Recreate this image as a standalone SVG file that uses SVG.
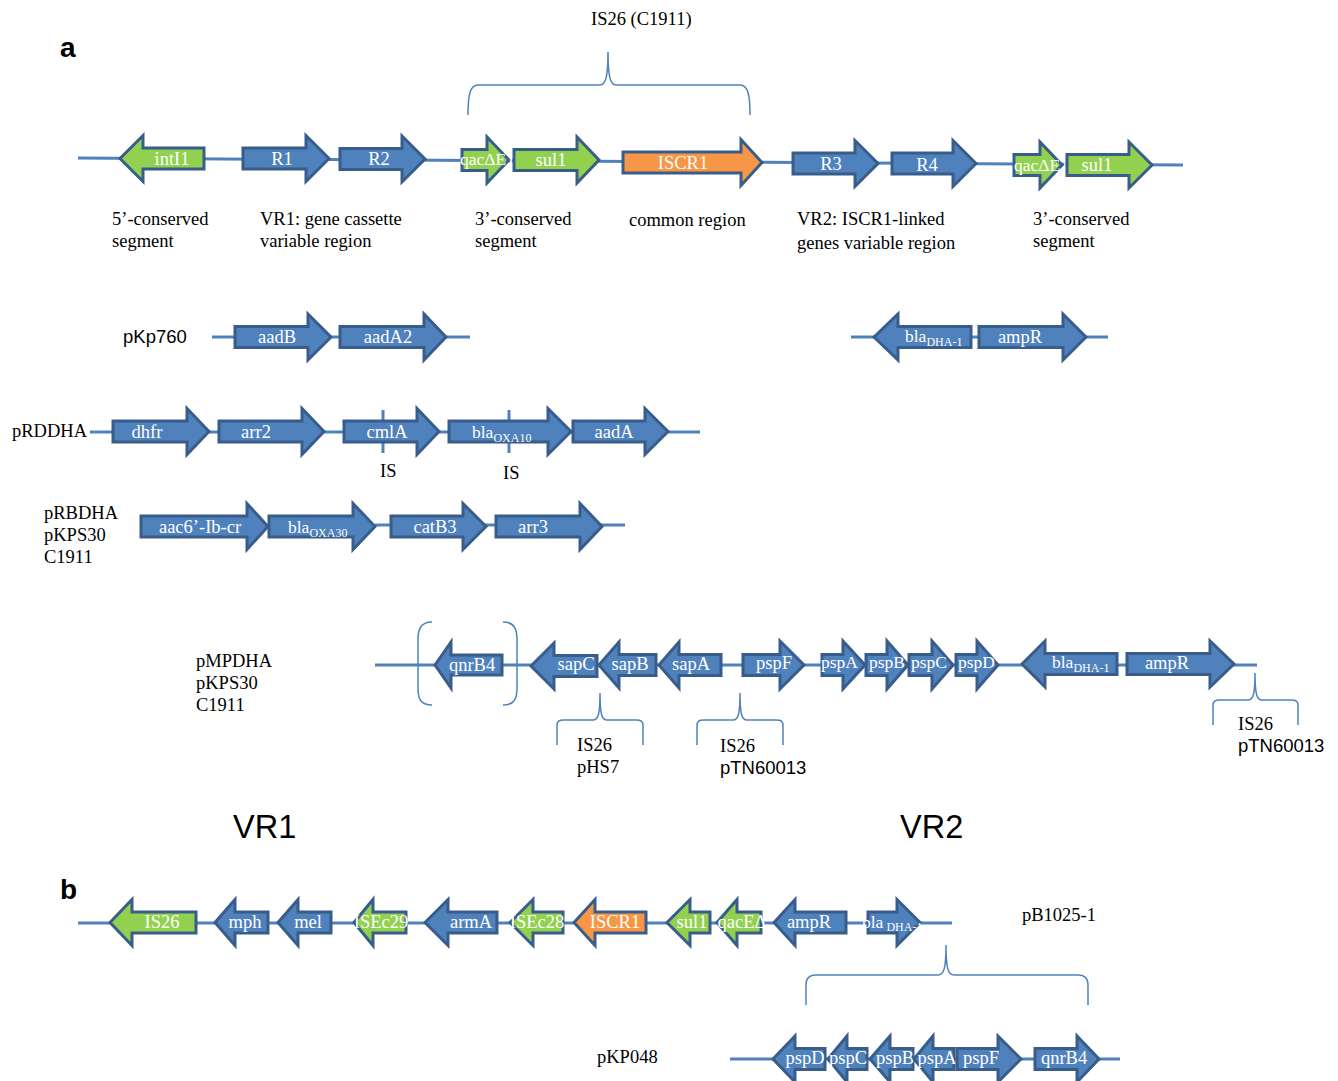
<svg xmlns="http://www.w3.org/2000/svg" width="1338" height="1081" viewBox="0 0 1338 1081">
<style>
.b{fill:#4F81BD;stroke:#385D8A;stroke-width:3;stroke-linejoin:miter}
.g{fill:#92D050;stroke:#385D8A;stroke-width:3}
.o{fill:#F79646;stroke:#385D8A;stroke-width:3}
.ln{stroke:#4F81BD;stroke-width:3;fill:none}
.br{stroke:#4F81BD;stroke-width:1.5;fill:none}
.t{font-family:"Liberation Serif",serif;font-size:18.5px;fill:#fff;text-anchor:middle}
.tl{font-family:"Liberation Serif",serif;font-size:17.5px;fill:#fff}
.k{font-family:"Liberation Serif",serif;font-size:18.5px;fill:#000}
.s{font-family:"Liberation Sans",sans-serif;font-size:18.5px;fill:#000}
.big{font-family:"Liberation Sans",sans-serif;font-size:32.5px;fill:#000}
.lab{font-family:"Liberation Sans",sans-serif;font-size:28px;font-weight:bold;fill:#000}
.sub{font-size:12px}
.tick{stroke:#4F81BD;stroke-width:3}
</style>

<g id="connectors">
<line class="ln" x1="78" y1="158" x2="1183" y2="165"/>
<line class="ln" x1="212" y1="337" x2="470" y2="337"/>
<line class="ln" x1="851" y1="337" x2="1108" y2="337"/>
<line class="ln" x1="90" y1="432" x2="700" y2="432"/>
<line class="ln" x1="375" y1="525" x2="625" y2="525"/>
<line class="ln" x1="375" y1="665" x2="1257" y2="665"/>
<line class="ln" x1="78" y1="923" x2="952" y2="923"/>
<line class="ln" x1="730" y1="1059" x2="1120" y2="1059"/>
<path class="br" d="M468,115 C468,95 470,85 478,85 L600,85 C606,85 608,75 608,52 C608,75 610,85 616,85 L740,85 C748,85 750,95 750,115"/>
<path class="br" d="M432,622 C420,622 418,630 418,640 L418,688 C418,698 420,705 432,705"/>
<path class="br" d="M503,622 C515,622 517,630 517,640 L517,688 C517,698 515,705 503,705"/>
<path class="br" d="M557,745 L557,726 C557,721 559,720 564,720 L593,720 C598,720 600,715 600,693 C600,715 602,720 607,720 L636,720 C641,720 643,721 643,726 L643,745"/>
<path class="br" d="M697,745 L697,726 C697,721 699,720 704,720 L733,720 C738,720 740,715 740,693 C740,715 742,720 747,720 L776,720 C781,720 783,721 783,726 L783,745"/>
<path class="br" d="M1213,725 L1213,706 C1213,701 1215,700 1220,700 L1248,700 C1253,700 1255,695 1255,673 C1255,695 1257,700 1262,700 L1291,700 C1296,700 1298,701 1298,706 L1298,725"/>
<path class="br" d="M806,1005 L806,985 C806,978 809,975 816,975 L938,975 C944,975 946,968 946,945 C946,968 948,975 954,975 L1078,975 C1085,975 1088,978 1088,985 L1088,1005"/>
<line class="tick" x1="383" y1="410" x2="383" y2="453"/>
<line class="tick" x1="509" y1="410" x2="509" y2="453"/>
</g>

<g id="labels">
<text class="lab" x="60" y="57">a</text>
<text class="lab" x="60" y="899">b</text>
<text class="k" x="591" y="25">IS26 (C1911)</text>
<text class="k" x="112" y="225">5’-conserved</text>
<text class="k" x="112" y="247">segment</text>
<text class="k" x="260" y="225">VR1: gene cassette</text>
<text class="k" x="260" y="247">variable region</text>
<text class="k" x="475" y="225">3’-conserved</text>
<text class="k" x="475" y="247">segment</text>
<text class="k" x="629" y="226">common region</text>
<text class="k" x="797" y="225">VR2: ISCR1-linked</text>
<text class="k" x="797" y="249">genes variable region</text>
<text class="k" x="1033" y="225">3’-conserved</text>
<text class="k" x="1033" y="247">segment</text>
<text class="s" x="123" y="343">pKp760</text>
<text class="k" x="12" y="437">pRDDHA</text>
<text class="k" x="44" y="519">pRBDHA</text>
<text class="k" x="44" y="541">pKPS30</text>
<text class="k" x="44" y="563">C1911</text>
<text class="k" x="196" y="667">pMPDHA</text>
<text class="k" x="196" y="689">pKPS30</text>
<text class="k" x="196" y="711">C1911</text>
<text class="k" x="380" y="477">IS</text>
<text class="k" x="503" y="479">IS</text>
<text class="k" x="577" y="751">IS26</text>
<text class="k" x="577" y="773">pHS7</text>
<text class="k" x="720" y="752">IS26</text>
<text class="s" x="720" y="774">pTN60013</text>
<text class="k" x="1238" y="730">IS26</text>
<text class="s" x="1238" y="752">pTN60013</text>
<text class="big" x="233" y="838">VR1</text>
<text class="big" x="900" y="838">VR2</text>
<text class="k" x="1022" y="921">pB1025-1</text>
<text class="k" x="597" y="1063">pKP048</text>
</g>

<!-- top row -->
<g id="intI1"><polygon class="g" points="120,158.5 143,135.5 143,148 204,148 204,169 143,169 143,181.5"/><text class="t" x="172" y="165">intI1</text></g>
<g id="R1"><polygon class="b" points="243,148 306,148 306,135.5 329,158.5 306,181.5 306,169 243,169"/><text class="t" x="282" y="165">R1</text></g>
<g id="R2"><polygon class="b" points="340,148.5 402,148.5 402,136 425,159 402,182 402,169.5 340,169.5"/><text class="t" x="379" y="165">R2</text></g>
<g id="qacDE1a"><polygon class="g" points="462,149.5 487,149.5 487,137 509,160 487,183 487,170.5 462,170.5"/><text class="tl" x="460" y="165">qacΔE1</text></g>
<g id="sul1a"><polygon class="g" points="514,149.5 577,149.5 577,137 599,160 577,183 577,170.5 514,170.5"/><text class="t" x="551" y="166">sul1</text></g>
<g id="ISCR1a"><polygon class="o" points="623,152 741,152 741,139.5 762,162.5 741,185.5 741,173 623,173"/><text class="t" x="683" y="169">ISCR1</text></g>
<g id="R3"><polygon class="b" points="793,153 855,153 855,140.5 878,163.5 855,186.5 855,174 793,174"/><text class="t" x="831" y="170">R3</text></g>
<g id="R4"><polygon class="b" points="892,153 953,153 953,140.5 976,163.5 953,186.5 953,174 892,174"/><text class="t" x="927" y="171">R4</text></g>
<g id="qacDE1b"><polygon class="g" points="1014,154.5 1040,154.5 1040,142 1062,165 1040,188 1040,175.5 1014,175.5"/><text class="tl" x="1014" y="171">qacΔE1</text></g>
<g id="sul1b"><polygon class="g" points="1067,154.5 1129,154.5 1129,142 1152,165 1129,188 1129,175.5 1067,175.5"/><text class="t" x="1097" y="171">sul1</text></g>

<!-- pKp760 -->
<g id="aadB"><polygon class="b" points="235,326.5 308,326.5 308,314 331,337 308,360 308,347.5 235,347.5"/><text class="t" x="277" y="343">aadB</text></g>
<g id="aadA2"><polygon class="b" points="340,326.5 424,326.5 424,314 446,337 424,360 424,347.5 340,347.5"/><text class="t" x="388" y="343">aadA2</text></g>
<g id="blaDHA1a"><polygon class="b" points="874,337 898,314 898,326.5 971,326.5 971,347.5 898,347.5 898,360"/><text class="tl" x="905" y="342">bla<tspan class="sub" dy="4">DHA-1</tspan></text></g>
<g id="ampRa"><polygon class="b" points="979,326.5 1063,326.5 1063,314 1086,337 1063,360 1063,347.5 979,347.5"/><text class="t" x="1020" y="343">ampR</text></g>

<!-- pRDDHA -->
<g id="dhfr"><polygon class="b" points="113,421 187,421 187,408.5 209,431.5 187,454.5 187,442 113,442"/><text class="t" x="147" y="438">dhfr</text></g>
<g id="arr2"><polygon class="b" points="219,421 302,421 302,408.5 324,431.5 302,454.5 302,442 219,442"/><text class="t" x="256" y="438">arr2</text></g>
<g id="cmlA"><polygon class="b" points="344,421 417,421 417,408.5 439,431.5 417,454.5 417,442 344,442"/><text class="t" x="387" y="438">cmlA</text></g>
<g id="blaOXA10"><polygon class="b" points="449,421 548,421 548,408.5 571,431.5 548,454.5 548,442 449,442"/><text class="tl" x="472" y="438">bla<tspan class="sub" dy="4">OXA10</tspan></text></g>
<g id="aadA"><polygon class="b" points="573,421 645,421 645,408.5 668,431.5 645,454.5 645,442 573,442"/><text class="t" x="614" y="438">aadA</text></g>

<!-- pRBDHA -->
<g id="aac6"><polygon class="b" points="141,516 247,516 247,503.5 268,526.5 247,549.5 247,537 141,537"/><text class="t" x="200" y="533">aac6’-Ib-cr</text></g>
<g id="blaOXA30"><polygon class="b" points="269,516 353,516 353,503.5 375,526.5 353,549.5 353,537 269,537"/><text class="tl" x="288" y="533">bla<tspan class="sub" dy="4">OXA30</tspan></text></g>
<g id="catB3"><polygon class="b" points="391,516 463,516 463,503.5 486,526.5 463,549.5 463,537 391,537"/><text class="t" x="435" y="533">catB3</text></g>
<g id="arr3"><polygon class="b" points="496,516 580,516 580,503.5 602,526.5 580,549.5 580,537 496,537"/><text class="t" x="533" y="533">arr3</text></g>

<!-- pMPDHA -->
<g id="qnrB4a"><polygon class="b" points="435,665 451,642 451,655 502,655 502,675 451,675 451,688"/><text class="t" x="472" y="671">qnrB4</text></g>
<g id="sapC"><polygon class="b" points="531,666 554,643 554,655.5 597,655.5 597,676.5 554,676.5 554,689"/><text class="t" x="576" y="670">sapC</text></g>
<g id="sapB"><polygon class="b" points="599,665 619,642 619,654.5 656,654.5 656,675.5 619,675.5 619,688"/><text class="t" x="630" y="670">sapB</text></g>
<g id="sapA"><polygon class="b" points="659,665 679,642 679,654.5 721,654.5 721,675.5 679,675.5 679,688"/><text class="t" x="691" y="670">sapA</text></g>
<g id="pspFa"><polygon class="b" points="743,654.5 780,654.5 780,641 804,665 780,689 780,675.5 743,675.5"/><text class="t" x="774" y="669">pspF</text></g>
<g id="pspAa"><polygon class="b" points="822,654.5 843,654.5 843,641 865,665 843,689 843,675.5 822,675.5"/><text class="tl" x="821" y="668">pspA</text></g>
<g id="pspBa"><polygon class="b" points="866,654.5 887,654.5 887,641 908,665 887,689 887,675.5 866,675.5"/><text class="tl" x="869" y="668">pspB</text></g>
<g id="pspCa"><polygon class="b" points="909,654.5 932,654.5 932,641 953,665 932,689 932,675.5 909,675.5"/><text class="tl" x="911" y="668">pspC</text></g>
<g id="pspDa"><polygon class="b" points="956,654.5 977,654.5 977,641 998,665 977,689 977,675.5 956,675.5"/><text class="tl" x="958" y="668">pspD</text></g>
<g id="blaDHA1b"><polygon class="b" points="1022,664 1045,641 1045,653.5 1117,653.5 1117,674.5 1045,674.5 1045,687"/><text class="tl" x="1052" y="668">bla<tspan class="sub" dy="4">DHA-1</tspan></text></g>
<g id="ampRb"><polygon class="b" points="1127,653.5 1210,653.5 1210,641 1234,664 1210,687 1210,674.5 1127,674.5"/><text class="t" x="1167" y="669">ampR</text></g>

<!-- b row -->
<g id="IS26"><polygon class="g" points="110,922.5 132,899.5 132,912 196,912 196,933 132,933 132,945.5"/><text class="t" x="162" y="928">IS26</text></g>
<g id="mph"><polygon class="b" points="215,922.5 235,899.5 235,912 268,912 268,933 235,933 235,945.5"/><text class="t" x="245" y="928">mph</text></g>
<g id="mel"><polygon class="b" points="278,922.5 298,899.5 298,912 331,912 331,933 298,933 298,945.5"/><text class="t" x="308" y="928">mel</text></g>
<g id="ISEc29"><polygon class="g" points="354,922.5 373,899.5 373,912 406,912 406,933 373,933 373,945.5"/><text class="t" x="381" y="928">ISEc29</text></g>
<g id="armA"><polygon class="b" points="425,922.5 448,899.5 448,912 497,912 497,933 448,933 448,945.5"/><text class="t" x="471" y="928">armA</text></g>
<g id="ISEc28"><polygon class="g" points="510,922.5 533,899.5 533,912 563,912 563,933 533,933 533,945.5"/><text class="t" x="537" y="928">ISEc28</text></g>
<g id="ISCR1b"><polygon class="o" points="574,922.5 595,899.5 595,912 646,912 646,933 595,933 595,945.5"/><text class="t" x="615" y="928">ISCR1</text></g>
<g id="sul1c"><polygon class="g" points="667,922.5 690,899.5 690,912 710,912 710,933 690,933 690,945.5"/><text class="t" x="692" y="928">sul1</text></g>
<g id="qacEd"><polygon class="g" points="717,922.5 737,899.5 737,912 761,912 761,933 737,933 737,945.5"/><text class="t" x="742" y="928">qacEΔ</text></g>
<g id="ampRc"><polygon class="b" points="774,922.5 795,899.5 795,912 846,912 846,933 795,933 795,945.5"/><text class="t" x="809" y="928">ampR</text></g>
<g id="blaDHA1c"><polygon class="b" points="868,912 897,912 897,899.5 920,922.5 897,945.5 897,933 868,933"/><text class="tl" x="862" y="928">bla<tspan class="sub" dy="3"> DHA-1</tspan></text></g>

<!-- pKP048 -->
<g id="pspDb"><polygon class="b" points="773,1059 795,1036 795,1048.5 825,1048.5 825,1069.5 795,1069.5 795,1082"/><text class="t" x="805" y="1064">pspD</text></g>
<g id="pspCb"><polygon class="b" points="828,1059 847,1036 847,1048.5 867,1048.5 867,1069.5 847,1069.5 847,1082"/><text class="t" x="848" y="1064">pspC</text></g>
<g id="pspBb"><polygon class="b" points="870,1059 890,1036 890,1048.5 913,1048.5 913,1069.5 890,1069.5 890,1082"/><text class="t" x="895" y="1064">pspB</text></g>
<g id="pspAb"><polygon class="b" points="914,1059 933,1036 933,1048.5 954,1048.5 954,1069.5 933,1069.5 933,1082"/><text class="t" x="937" y="1064">pspA</text></g>
<g id="pspFb"><polygon class="b" points="957,1048.5 998,1048.5 998,1036 1021,1059 998,1082 998,1069.5 957,1069.5"/><text class="t" x="981" y="1064">pspF</text></g>
<g id="qnrB4b"><polygon class="b" points="1035,1048.5 1077,1048.5 1077,1036 1099,1059 1077,1082 1077,1069.5 1035,1069.5"/><text class="t" x="1064" y="1064">qnrB4</text></g>
</svg>
